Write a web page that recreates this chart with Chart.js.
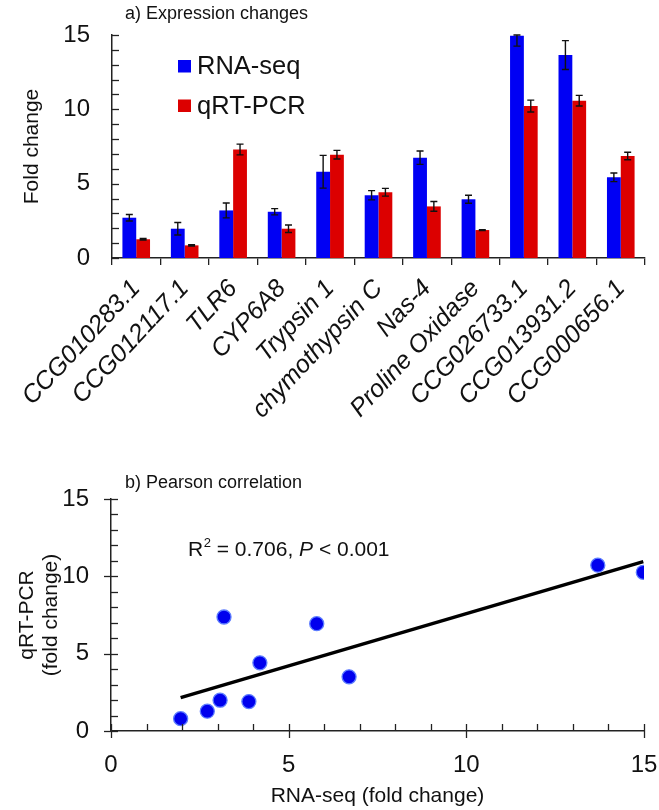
<!DOCTYPE html>
<html><head><meta charset="utf-8">
<script src="https://cdn.jsdelivr.net/npm/chart.js@4.4.0/dist/chart.umd.min.js"></script>
<style>
html,body{margin:0;padding:0;background:#fff;}
#wrap{position:relative;width:659px;height:810px;background:#fff;}
#c1{position:absolute;left:0;top:0;}
#c2{position:absolute;left:0;top:470px;}
</style></head><body>
<div id="wrap"><canvas id="c1" width="659" height="470"></canvas><canvas id="c2" width="659" height="340"></canvas></div>
<script>
// ---- data ----
const genes = ['CCG010283.1','CCG012117.1','TLR6','CYP6A8','Trypsin 1','chymothypsin C','Nas-4','Proline Oxidase','CCG026733.1','CCG013931.2','CCG000656.1'];
const rnaSeq    = [2.71,1.97,3.20,3.11,5.80,4.22,6.75,3.95,14.95,13.65,5.43];
const rnaSeqErr = [0.22,0.42,0.50,0.21,1.10,0.31,0.45,0.27,0.70,0.97,0.29];
const qrtPcr    = [1.26,0.85,7.30,1.97,6.95,4.42,3.47,1.88,10.22,10.58,6.86];
const qrtPcrErr = [0.05,0.04,0.36,0.25,0.29,0.26,0.33,0.03,0.40,0.36,0.25];
const majorTicks = [0,5,10,15];
const scatterX = [1.96,2.71,3.07,3.18,3.88,4.19,5.79,6.70,13.70,14.98];
const scatterY = [0.80,1.28,1.99,7.37,1.90,4.41,6.94,3.50,10.72,10.26];
const trendX = [1.96,14.98];
const trendY = [2.16,10.95];
const seriesNames = ['RNA-seq','qRT-PCR'];

const FONT = 'Liberation Sans, Arial, sans-serif';
Chart.defaults.font.family = FONT;
Chart.defaults.color = '#111';
const BLUE = '#0000f4', RED = '#dc0000', AX = '#222';

const tickCb = v => majorTicks.includes(v) ? String(v) : '';

// ---- chart A plugins ----
const errorBars = {
  id:'errorBars',
  afterDatasetsDraw(chart){
    const ctx=chart.ctx, ys=chart.scales.y, area=chart.chartArea;
    ctx.save(); ctx.strokeStyle='#111'; ctx.lineWidth=1.4;
    chart.data.datasets.forEach((ds,i)=>{
      const meta=chart.getDatasetMeta(i);
      meta.data.forEach((bar,j)=>{
        const v=ds.data[j], e=ds.errors[j];
        let top=ys.getPixelForValue(v+e), bot=ys.getPixelForValue(v-e);
        top=Math.max(top,area.top); bot=Math.min(bot,area.bottom);
        const x=bar.x, w=3.5;
        ctx.beginPath();
        ctx.moveTo(x,top); ctx.lineTo(x,bot);
        ctx.moveTo(x-w,top); ctx.lineTo(x+w,top);
        ctx.moveTo(x-w,bot); ctx.lineTo(x+w,bot);
        ctx.stroke();
      });
    });
    ctx.restore();
  }
};
const decorA = {
  id:'decorA',
  afterDraw(chart){
    const ctx=chart.ctx, ys=chart.scales.y, area=chart.chartArea;
    ctx.save();
    ctx.strokeStyle=AX; ctx.lineWidth=1.3;
    ys.ticks.forEach(t=>{
      const py=Math.round(ys.getPixelForValue(t.value))+0.5;
      ctx.beginPath(); ctx.moveTo(area.left,py); ctx.lineTo(area.left+7,py); ctx.stroke();
    });
    ctx.fillStyle='#111'; ctx.textBaseline='alphabetic'; ctx.textAlign='left';
    ctx.font='18px '+FONT;
    ctx.fillText('a) Expression changes',125,18.5);
    ctx.font='25.5px '+FONT;
    chart.data.datasets.forEach((ds,i)=>{
      const by=60+i*39.5;
      ctx.fillStyle=ds.backgroundColor; ctx.fillRect(178,by,13,12.5);
      ctx.fillStyle='#111'; ctx.fillText(ds.label,197,by+14);
    });
    ctx.restore();
  }
};

new Chart(document.getElementById('c1'),{
  type:'bar',
  data:{labels:genes,datasets:[
    {label:seriesNames[0],data:rnaSeq,errors:rnaSeqErr,backgroundColor:BLUE,borderWidth:0,barPercentage:1,categoryPercentage:0.57},
    {label:seriesNames[1],data:qrtPcr,errors:qrtPcrErr,backgroundColor:RED,borderWidth:0,barPercentage:1,categoryPercentage:0.57}
  ]},
  options:{
    responsive:false,animation:false,
    layout:{padding:{top:35,right:14,left:0,bottom:0},autoPadding:false},
    plugins:{legend:{display:false},tooltip:{enabled:false}},
    scales:{
      x:{
        grid:{display:true,drawOnChartArea:false,drawTicks:true,tickLength:7,color:AX,lineWidth:1.3,offset:true},
        border:{display:true,color:AX,width:1.5},
        ticks:{autoSkip:false,minRotation:47,maxRotation:47,padding:9,color:'#111',font:{size:25,style:'italic'}},
        afterFit(s){s.height=212;}
      },
      y:{
        min:0,max:15,
        grid:{display:false,drawTicks:true,tickLength:22},
        border:{display:true,color:AX,width:1.5},
        ticks:{stepSize:1,autoSkip:false,padding:0,callback:tickCb,color:'#111',font:{size:24}},
        title:{display:true,text:'Fold change',font:{size:21},color:'#111',padding:{top:20,bottom:0}},
        afterFit(s){s.width=112;}
      }
    }
  },
  plugins:[errorBars,decorA]
});

// ---- chart B ----
const decorB = {
  id:'decorB',
  afterDraw(chart){
    const ctx=chart.ctx, xs=chart.scales.x, ys=chart.scales.y, area=chart.chartArea;
    ctx.save(); ctx.strokeStyle=AX; ctx.lineWidth=1.3;
    ys.ticks.forEach(t=>{
      const py=Math.round(ys.getPixelForValue(t.value))+0.5;
      const major=majorTicks.includes(t.value);
      ctx.beginPath(); ctx.moveTo(area.left-(major?7:0),py); ctx.lineTo(area.left+7,py); ctx.stroke();
    });
    xs.ticks.forEach(t=>{
      const px=Math.round(xs.getPixelForValue(t.value))+0.5;
      const major=majorTicks.includes(t.value);
      ctx.beginPath(); ctx.moveTo(px,area.bottom+(major?7:0)); ctx.lineTo(px,area.bottom-7); ctx.stroke();
    });
    ctx.fillStyle='#111'; ctx.textAlign='left'; ctx.textBaseline='alphabetic';
    ctx.font='18px '+FONT;
    ctx.fillText('b) Pearson correlation',125,18);
    let x=188, y=86;
    ctx.font='21px '+FONT; ctx.fillText('R',x,y); x+=ctx.measureText('R').width;
    ctx.font='13px '+FONT; ctx.fillText('2',x+0.5,y-9); x+=ctx.measureText('2').width+0.5;
    ctx.font='21px '+FONT; const s1=' = 0.706, '; ctx.fillText(s1,x,y); x+=ctx.measureText(s1).width;
    ctx.font='italic 21px '+FONT; ctx.fillText('P',x,y); x+=ctx.measureText('P').width;
    ctx.font='21px '+FONT; ctx.fillText(' < 0.001',x,y);
    ctx.restore();
  }
};

new Chart(document.getElementById('c2'),{
  type:'scatter',
  data:{datasets:[
    {label:'genes',data:scatterX.map((v,i)=>({x:v,y:scatterY[i]})),backgroundColor:'#0000ee',borderColor:'#5c7cff',borderWidth:1.3,pointRadius:7,order:0},
    {type:'line',label:'fit',data:trendX.map((v,i)=>({x:v,y:trendY[i]})),borderColor:'#000',borderWidth:3.5,pointRadius:0,fill:false,order:1}
  ]},
  options:{
    responsive:false,animation:false,
    layout:{padding:{top:29,right:15,left:0,bottom:0},autoPadding:false},
    plugins:{legend:{display:false},tooltip:{enabled:false}},
    scales:{
      x:{
        type:'linear',min:0,max:15,
        grid:{display:false,drawTicks:true,tickLength:20},
        border:{display:true,color:AX,width:1.5},
        ticks:{stepSize:1,autoSkip:false,padding:0,callback:tickCb,color:'#111',font:{size:24},maxRotation:0},
        title:{display:true,text:'RNA-seq (fold change)',font:{size:21},color:'#111',padding:{top:0,bottom:1}},
        afterFit(s){s.height=79;}
      },
      y:{
        type:'linear',min:0,max:15,
        grid:{display:false,drawTicks:true,tickLength:22},
        border:{display:true,color:AX,width:1.5},
        ticks:{stepSize:1,autoSkip:false,padding:0,callback:tickCb,color:'#111',font:{size:24}},
        title:{display:true,text:['qRT-PCR','(fold change)'],font:{size:21,lineHeight:1.15},color:'#111',padding:{top:15,bottom:0}},
        afterFit(s){s.width=111;}
      }
    }
  },
  plugins:[decorB]
});
</script>
</body></html>
